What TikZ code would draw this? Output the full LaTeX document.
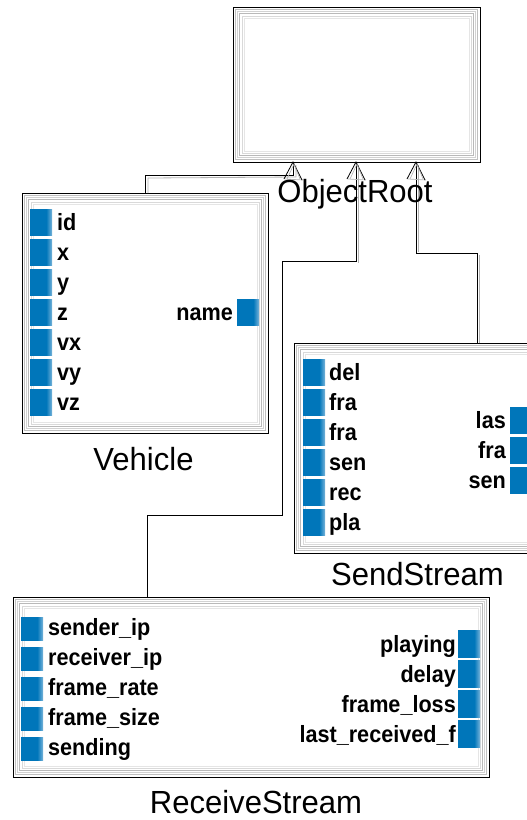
\documentclass[tikz,border=0pt]{standalone}
\usepackage{fontspec}
\setmainfont{Liberation Sans}
\newfontfamily\titlefont{Liberation Sans}[FakeStretch=0.97]
\newfontfamily\portfont{Liberation Sans}[FakeStretch=0.92]
\usetikzlibrary{calc}
\definecolor{portblue}{RGB}{0,118,186}
\definecolor{portlight}{RGB}{120,180,218}
\pgfdeclarehorizontalshading{portshade}{100bp}{color(0bp)=(portblue); color(25bp)=(portblue); color(62bp)=(portblue); color(75bp)=(portlight); color(100bp)=(portlight)}
\tikzset{
  umlbox/.style={draw=black, line width=0.9pt, inner sep=0pt, outer sep=0pt},
  boxtitle/.style={font=\titlefont\fontsize{32}{32}\selectfont, anchor=base, inner sep=0pt},
  portsq/.style={minimum width=22pt, minimum height=26pt, inner sep=0pt, outer sep=0pt, anchor=north west,
    shading=portshade},
  lportlbl/.style={font=\portfont\bfseries\fontsize{23.5}{23.5}\selectfont, anchor=base west, inner sep=0pt},
  rportlbl/.style={font=\portfont\bfseries\fontsize{23.5}{23.5}\selectfont, anchor=base east, inner sep=0pt},
  conn/.style={draw=black, line width=0.8pt},
  connshadow/.style={draw=gray!60, line width=0.8pt},
}
\newcommand{\nestframe}[1]{%
  \foreach \d/\c in {2.5/gray!50, 4.5/gray!35, 6.5/gray!55, 9/gray!30, 11/gray!20}
    \draw[\c, line width=0.8pt] ([shift={(\d,\d)}]#1.north west) rectangle ([shift={(-\d,-\d)}]#1.south east);}
\begin{document}
\begin{tikzpicture}[x=1pt, y=-1pt]
\useasboundingbox (0,0) rectangle (527,820);
\clip (0,0) rectangle (527,820);

% boxes
\node[umlbox, minimum width=247pt, minimum height=155pt] (root) at (356.5,84.5) {};
\node[umlbox, minimum width=246pt, minimum height=240pt] (veh) at (145,313) {};
\node[umlbox, minimum width=247pt, minimum height=210pt] (send) at (417.5,448) {};
\node[umlbox, minimum width=476pt, minimum height=180pt] (recv) at (251,687) {};
\nestframe{root}
\nestframe{veh}
\nestframe{send}
\nestframe{recv}

% connector anchor points on ObjectRoot
\coordinate (t1) at ($(root.south west)+(60,0)$);
\coordinate (t2) at ($(root.south west)+(123,0)$);
\coordinate (t3) at ($(root.south west)+(183,0)$);

% connectors (gray shadow then black)
\draw[connshadow] ($(veh.north)+(3,0)$) -- ($(veh.north)+(3,-15)$) -- ($(t1)+(3,15)$) -- ($(t1)+(3,3)$);
\draw[conn] (veh.north) -- ($(veh.north)+(0,-18)$) -- ($(t1)+(0,13)$) -- (t1);

\draw[connshadow] ($(t2)+(2,3)$) -- ($(t2)+(2,101)$);
\draw[conn] (recv.north -| 147,0) -- (147,515) -- (282,515) -- (282,261) -- ($(t2)+(0,99)$) -- (t2);

\draw[connshadow] ($(t3)+(2,3)$) -- ($(t3)+(2,90)$);
\draw[connshadow] ($(send.north west)+(185,0)$) -- ($(send.north west)+(185,-88)$);
\draw[conn] (t3) -- ($(t3)+(0,91)$) -- ($(send.north west)+(183,-90)$) -- ($(send.north west)+(183,0)$);

% arrowheads (open triangles)
\foreach \t in {t1,t2,t3}{
  \draw[gray!60, line width=0.7pt] ($(\t)+(-8,17)$) -- ($(\t)+(10,18)$);
  \draw[black, line width=0.8pt] ($(\t)+(-9,17)$) -- (\t) -- ($(\t)+(9,18)$);
  \draw[gray!60, line width=0.6pt] ($(\t)+(-6,17)$) -- ($(\t)+(1,2)$) -- ($(\t)+(7,17)$);
}

% titles
\node[boxtitle] (rootlbl) at (355,202) {ObjectRoot};
\node[boxtitle] (vehlbl) at (143.5,470) {Vehicle};
\node[boxtitle] (sendlbl) at (417.5,585) {SendStream};
\node[boxtitle] (recvlbl) at (256,813) {ReceiveStream};

% Vehicle ports
\foreach \n/\lab [count=\i from 0] in {vid/id, vx/x, vy/y, vz/z, vvx/vx, vvy/vy, vvz/vz}{
  \node[portsq] (\n) at (30,209+30*\i) {};
  \node[lportlbl] (\n l) at (57,230+30*\i) {\lab};
}
\node[portsq] (vname) at (237,299) {};
\node[rportlbl] (vnamel) at (233,320) {name};

% SendStream ports
\foreach \n/\lab [count=\i from 0] in {sa/del, sb/fra, sc/fra, sd/sen, se/rec, sf/pla}{
  \node[portsq] (\n) at (303,359+30*\i) {};
  \node[lportlbl] (\n l) at (329,380+30*\i) {\lab};
}
\foreach \n/\lab [count=\i from 0] in {sra/las, srb/fra, src/sen}{
  \node[portsq] (\n) at (510,407+30*\i) {};
  \node[rportlbl] (\n l) at (506,428+30*\i) {\lab};
}

% ReceiveStream ports
\foreach \n/\lab [count=\i from 0] in {ra/sender\_ip, rb/receiver\_ip, rc/frame\_rate, rd/frame\_size, re/sending}{
  \node[portsq, minimum height=23pt] (\n) at (21,617+30*\i) {};
  \node[lportlbl] (\n l) at (48,635+30*\i) {\lab};
}
\foreach \n/\lab [count=\i from 0] in {rra/playing, rrb/delay, rrc/frame\_loss, rrd/last\_received\_f}{
  \node[portsq, minimum height=27pt] (\n) at (458,630+30*\i) {};
  \node[rportlbl] (\n l) at (456,652+30*\i) {\lab};
}
\end{tikzpicture}
\end{document}
